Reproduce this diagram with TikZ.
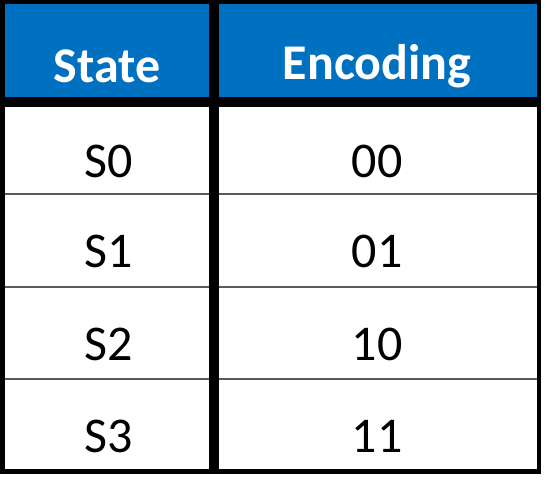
\documentclass[tikz,border=0pt]{standalone}
\usepackage{fontspec}
\setmainfont{Carlito}
\definecolor{hdrblue}{HTML}{0070C0}
\definecolor{rowline}{HTML}{5A5A5A}
\begin{document}
\begin{tikzpicture}[x=1pt,y=1pt,
  hdr/.style={font=\fontsize{50}{54}\selectfont\bfseries, text=white, anchor=center},
  cell/.style={font=\fontsize{50}{54}\selectfont, text=black, anchor=center},
  thickline/.style={line width=4.5pt, black},
  sepline/.style={line width=9.5pt, black},
  rowsep/.style={line width=1.5pt, rowline}]
\useasboundingbox (0,0) rectangle (547,-495);
\fill[white] (0,0) rectangle (547,-495);
\fill[hdrblue] (2,-2) rectangle (539,-102);
% row separators
\draw[rowsep] (4,-194) -- (537,-194);
\draw[rowsep] (4,-287) -- (537,-287);
\draw[rowsep] (4,-379) -- (537,-379);
% header bottom and column divider
\draw[sepline] (2,-102) -- (539,-102);
\draw[sepline] (214,-2) -- (214,-471);
% outer frame
\draw[thickline] (2.25,-2) rectangle (539,-471.5);
% texts
\node[hdr] (h1) at (107,-66) {State};
\node[hdr] (h2) at (377,-66) {Encoding};
\node[cell] (s0) at (108.5,-161) {S0};
\node[cell] (e0) at (377,-161) {00};
\node[cell] (s1) at (108.5,-251) {S1};
\node[cell] (e1) at (377,-251) {01};
\node[cell] (s2) at (108.5,-344) {S2};
\node[cell] (e2) at (377,-344) {10};
\node[cell] (s3) at (108.5,-436) {S3};
\node[cell] (e3) at (377,-436) {11};
\end{tikzpicture}
\end{document}
